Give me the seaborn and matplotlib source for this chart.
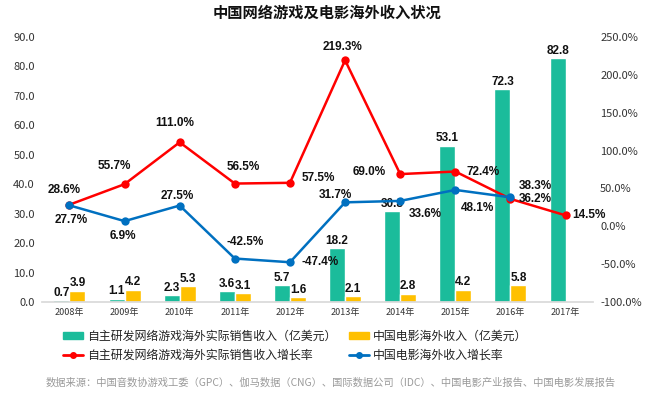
import numpy as np
import pandas as pd
import matplotlib
matplotlib.use('Agg')
import matplotlib.pyplot as plt
from matplotlib.patches import Patch
from matplotlib.lines import Line2D
import seaborn as sns

years = ['2008年', '2009年', '2010年', '2011年', '2012年',
         '2013年', '2014年', '2015年', '2016年', '2017年']
game_rev = [0.7, 1.1, 2.3, 3.6, 5.7, 18.2, 30.8, 53.1, 72.3, 82.8]
film_rev = [3.9, 4.2, 5.3, 3.1, 1.6, 2.1, 2.8, 4.2, 5.8]
game_growth = [28.6, 55.7, 111.0, 56.5, 57.5, 219.3, 69.0, 72.4, 36.2, 14.5]
film_growth = [27.7, 6.9, 27.5, -42.5, -47.4, 31.7, 33.6, 48.1, 38.3]

game_name = '自主研发网络游戏海外实际销售收入（亿美元）'
film_name = '中国电影海外收入（亿美元）'
game_g_name = '自主研发网络游戏海外实际销售收入增长率'
film_g_name = '中国电影海外收入增长率'

GREEN = '#1BBC9B'
YELLOW = '#FFC000'
RED = '#FF0000'
BLUE = '#0070C0'
NUM_FONT = 'Liberation Sans'

# label offsets in pixels (x, y up)
red_off = [(-5, 15), (-10, 18), (-5, 19), (8, 17), (28, 5),
           (-3, 13), (-31, 2), (28, 0), (25, 0), (23, 0)]
blue_off = [(2, -15), (-2, -15), (-2, 10), (10, 17), (30, 0),
            (-10, 7), (25, -13), (22, -18), (25, 11)]

sns.set_theme(style='white')
plt.rcParams['font.family'] = ['Noto Sans CJK SC', 'DejaVu Sans']

bars = pd.concat([
    pd.DataFrame({'year': years, 'value': game_rev, 'kind': game_name}),
    pd.DataFrame({'year': years[:len(film_rev)], 'value': film_rev, 'kind': film_name}),
])

fig = plt.figure(figsize=(6.54, 3.98), dpi=100)
ax = fig.add_axes([0.064, 0.241, 0.843, 0.666])

sns.barplot(data=bars, x='year', y='value', hue='kind', order=years,
            hue_order=[game_name, film_name], palette=[GREEN, YELLOW],
            width=0.58, saturation=1, legend=False, ax=ax)
for c in ax.containers:
    ax.bar_label(c, fmt='%.1f', padding=1, fontsize=8.5, fontweight='bold',
                 family=NUM_FONT, color='#111111')

ax.set_xlim(-0.5, len(years) - 0.5)
ax.set_ylim(0, 90)
ax.set_yticks(np.arange(0, 91, 10))
ax.set_yticklabels([f'{v:.1f}' for v in np.arange(0, 91, 10)])
ax.set_xlabel('')
ax.set_ylabel('')
ax.tick_params(axis='y', length=0, pad=5, labelsize=8, labelcolor='#333333')
ax.tick_params(axis='x', length=0, pad=4, labelsize=6.5, labelcolor='#333333')
for s in ['top', 'left', 'right']:
    ax.spines[s].set_visible(False)
ax.spines['bottom'].set_color('#D9D9D9')

ax2 = ax.twinx()
xs = np.arange(len(years))
sns.lineplot(x=xs, y=game_growth, color=RED, marker='o', markersize=6,
             markeredgewidth=0, linewidth=1.8, ax=ax2)
sns.lineplot(x=xs[:len(film_growth)], y=film_growth, color=BLUE, marker='o',
             markersize=6, markeredgewidth=0, linewidth=1.8, ax=ax2)
ax2.set_ylim(-100, 250)
ax2.set_yticks(np.arange(-100, 251, 50))
ax2.set_yticklabels([f'{v:.1f}%' for v in np.arange(-100, 251, 50)])
ax2.tick_params(axis='y', length=0, pad=5, labelsize=8, labelcolor='#333333')
for s in ax2.spines.values():
    s.set_visible(False)

for x, v, off in zip(xs, game_growth, red_off):
    ax2.annotate(f'{v:.1f}%', (x, v), xytext=off, textcoords='offset pixels',
                 ha='center', va='center', fontsize=8.5, fontweight='bold',
                 family=NUM_FONT, color='#111111')
for x, v, off in zip(xs, film_growth, blue_off):
    ax2.annotate(f'{v:.1f}%', (x, v), xytext=off, textcoords='offset pixels',
                 ha='center', va='center', fontsize=8.5, fontweight='bold',
                 family=NUM_FONT, color='#111111')

fig.text(0.5, 0.968, '中国网络游戏及电影海外收入状况', ha='center', va='center',
         fontsize=11, fontweight='bold', color='#111111')

handles = [Patch(color=GREEN), Line2D([], [], color=RED, marker='o', markersize=4, lw=2),
           Patch(color=YELLOW), Line2D([], [], color=BLUE, marker='o', markersize=4, lw=2)]
labels = [game_name, game_g_name, film_name, film_g_name]
fig.legend(handles, labels, loc='upper left', bbox_to_anchor=(0.096, 0.172),
           ncol=2, frameon=False, fontsize=8.6, borderpad=0, borderaxespad=0,
           handlelength=1.7, handleheight=0.6, handletextpad=0.35,
           columnspacing=1.0, labelspacing=0.55, labelcolor='#222222')

fig.text(0.070, 0.040,
         '数据来源：中国音数协游戏工委（GPC）、伽马数据（CNG）、国际数据公司（IDC）、中国电影产业报告、中国电影发展报告',
         ha='left', va='center', fontsize=7.4, color='#9A9A9A')

fig.savefig('out.png', dpi=100)
